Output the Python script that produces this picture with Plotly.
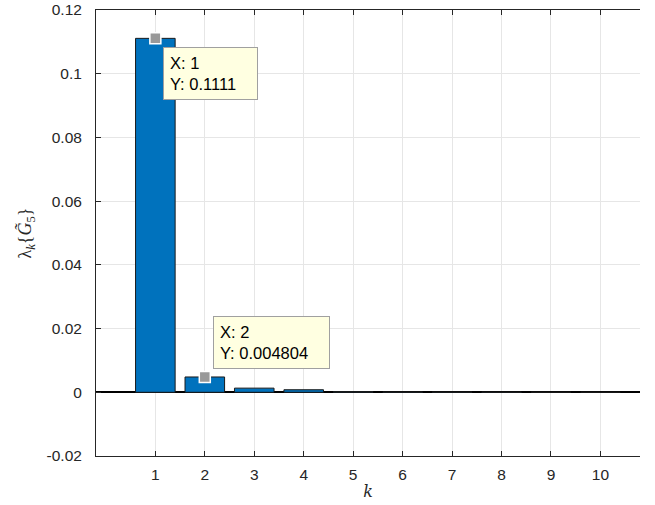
import plotly.graph_objects as go

k = [1, 2, 3, 4, 5, 6, 7, 8, 9, 10]
eigvals = [0.1111, 0.004804, 0.0013, 0.0008, 0.0002, 0.00012, 0.00008, 0.00006, 0.00004, 0.00003]
y_ticks = [-0.02, 0, 0.02, 0.04, 0.06, 0.08, 0.1, 0.12]
y_ticklabels = ["-0.02", "0", "0.02", "0.04", "0.06", "0.08", "0.1", "0.12"]
tip_idx = [0, 1]
tip_texts = ["X: 1<br>Y: 0.1111", "X: 2<br>Y: 0.004804"]

fig = go.Figure()
fig.add_trace(go.Bar(
    x=k, y=eigvals, width=0.8,
    marker=dict(color="#0072BD", line=dict(color="#1a1a1a", width=1)),
    showlegend=False, hoverinfo="skip",
))
fig.add_trace(go.Scatter(
    x=[k[i] for i in tip_idx], y=[eigvals[i] for i in tip_idx],
    mode="markers",
    marker=dict(symbol="square", size=11, color="#999999", line=dict(color="white", width=1.5)),
    showlegend=False, hoverinfo="skip",
))

offsets = [(8, 9), (8, -61)]
box_w = [81, 103]
for i, txt, (ax, ay), w in zip(tip_idx, tip_texts, offsets, box_w):
    fig.add_annotation(
        x=k[i], y=eigvals[i], text=txt, align="left",
        xanchor="left", yanchor="top",
        showarrow=True, arrowcolor="rgba(0,0,0,0)", arrowhead=0,
        ax=ax, ay=ay, width=w, height=39,
        bgcolor="#FFFFE1", bordercolor="#A0A0A0", borderwidth=1, borderpad=6,
        font=dict(family="Liberation Sans, Arial, sans-serif", size=16.5, color="#000000"),
    )

fig.update_layout(
    width=655, height=505,
    margin=dict(l=96, r=15, t=10, b=49, autoexpand=False),
    plot_bgcolor="white", paper_bgcolor="white",
    font=dict(family="Liberation Sans, Arial, sans-serif", size=15.5, color="#262626"),
    bargap=0.2,
)
fig.update_xaxes(
    range=[-0.2, 10.8], tickmode="array", tickvals=k, ticktext=[str(v) for v in k],
    showgrid=True, gridcolor="#E6E6E6", gridwidth=1,
    showline=True, linecolor="#262626", linewidth=1, mirror="ticks",
    ticks="inside", ticklen=5, tickcolor="#262626",
    ticklabelstandoff=4,
    zeroline=False, automargin=False,
    title=dict(text="<i>k</i>", font=dict(family="DejaVu Serif, Liberation Serif, serif", size=16, color="#262626"), standoff=4),
)
fig.update_yaxes(
    range=[-0.02, 0.12], tickmode="array", tickvals=y_ticks, ticktext=y_ticklabels,
    showgrid=True, gridcolor="#E6E6E6", gridwidth=1,
    showline=True, linecolor="#262626", linewidth=1,
    ticks="inside", ticklen=5, tickcolor="#262626",
    ticklabelstandoff=10,
    zeroline=True, zerolinecolor="#000000", zerolinewidth=1.5,
    automargin=False,
    title=dict(text="λ<sub><i>k</i></sub>{<i>G̃</i><sub>5</sub>}",
               font=dict(family="Liberation Serif, DejaVu Serif, serif", size=18, color="#262626"), standoff=10),
)

fig.write_html("out.html", config={"displayModeBar": False},
               post_script="document.body.style.margin='0';")
